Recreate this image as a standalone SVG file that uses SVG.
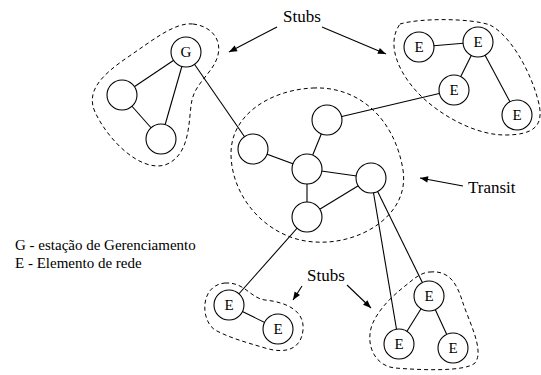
<svg xmlns="http://www.w3.org/2000/svg" width="541" height="375" viewBox="0 0 541 375">
  <style>
    .bg { fill: #ffffff; }
    .node circle { fill: #ffffff; stroke: #000000; stroke-width: 1.1; }
    .node text { font-size: 15px; text-anchor: middle; fill: #000000; }
    .link { stroke: #000000; stroke-width: 1.1; fill: none; }
    .domain { fill: none; stroke: #000000; stroke-width: 1; stroke-dasharray: 4 3; }
    .note { stroke: #000000; stroke-width: 1.1; fill: none; marker-end: url(#head); }
    .label { font-size: 17px; fill: #000000; }
    .legend { font-size: 15px; fill: #000000; }
  </style>
  <defs>
    <marker id="head" viewBox="0 0 10 10" refX="10" refY="5" markerWidth="10" markerHeight="8" markerUnits="userSpaceOnUse" orient="auto">
      <path d="M0,1 L10,5 L0,9 Z" fill="#000000"/>
    </marker>
  </defs>
  <rect class="bg" x="0" y="0" width="541" height="375"/>

  <!-- dashed domain boundaries -->
  <g id="domains">
    <path class="domain" d="M193,24 C210,26 222,38 218,55 C214,72 196,82 192,100 C188,118 192,155 165,165 C140,172 108,140 95,112 C86,92 100,76 128,57 C153,40 175,22 193,24 Z"/>
    <path class="domain" d="M400,24 C420,18 470,18 490,25 C510,35 530,70 538,100 C545,125 535,135 505,135 C475,135 440,115 420,95 C400,75 385,45 400,24 Z"/>
    <path class="domain" d="M313,88 C360,86 395,120 403,170 C410,215 360,245 315,242 C270,240 232,200 231,155 C230,115 270,90 313,88 Z"/>
    <path class="domain" d="M225,283 C245,282 250,298 265,300 C285,302 305,310 303,330 C301,350 285,354 265,348 C245,342 230,338 215,330 C200,320 200,285 225,283 Z"/>
    <path class="domain" d="M430,272 C450,270 457,285 462,300 C468,320 485,350 475,363 C465,372 420,370 395,368 C375,366 365,345 372,325 C380,305 400,290 410,282 C418,275 425,272 430,272 Z"/>
  </g>

  <!-- links between nodes -->
  <g id="connectors">
    <line class="link" x1="186" y1="52" x2="122" y2="95"/>
    <line class="link" x1="186" y1="52" x2="161" y2="139"/>
    <line class="link" x1="122" y1="95" x2="161" y2="139"/>
    <line class="link" x1="186" y1="52" x2="253" y2="149"/>
    <line class="link" x1="253" y1="149" x2="307" y2="169"/>
    <line class="link" x1="327" y1="120" x2="307" y2="169"/>
    <line class="link" x1="307" y1="169" x2="371" y2="178"/>
    <line class="link" x1="307" y1="169" x2="307" y2="217"/>
    <line class="link" x1="307" y1="217" x2="371" y2="178"/>
    <line class="link" x1="327" y1="120" x2="454" y2="90"/>
    <line class="link" x1="419" y1="47" x2="478" y2="42"/>
    <line class="link" x1="478" y1="42" x2="454" y2="90"/>
    <line class="link" x1="478" y1="42" x2="517" y2="115"/>
    <line class="link" x1="307" y1="217" x2="229" y2="305"/>
    <line class="link" x1="229" y1="305" x2="278" y2="329"/>
    <line class="link" x1="371" y1="178" x2="429" y2="296"/>
    <line class="link" x1="371" y1="178" x2="399" y2="344"/>
    <line class="link" x1="429" y1="296" x2="399" y2="344"/>
    <line class="link" x1="429" y1="296" x2="453" y2="348"/>
  </g>

  <g font-family="'Liberation Serif', 'Times New Roman', 'DejaVu Serif', serif">
    <!-- management stub -->
    <g id="g-station" class="node"><circle cx="186" cy="52" r="15"/><text x="186" y="57">G</text></g>
    <g id="stub1-a" class="node"><circle cx="122" cy="95" r="15"/></g>
    <g id="stub1-b" class="node"><circle cx="161" cy="139" r="15"/></g>

    <!-- transit domain -->
    <g id="transit-left" class="node"><circle cx="253" cy="149" r="15"/></g>
    <g id="transit-top" class="node"><circle cx="327" cy="120" r="15"/></g>
    <g id="transit-center" class="node"><circle cx="307" cy="169" r="15"/></g>
    <g id="transit-right" class="node"><circle cx="371" cy="178" r="15"/></g>
    <g id="transit-bottom" class="node"><circle cx="307" cy="217" r="15"/></g>

    <!-- upper right stub -->
    <g id="stub2-a" class="node"><circle cx="419" cy="47" r="15"/><text x="419" y="52">E</text></g>
    <g id="stub2-b" class="node"><circle cx="478" cy="42" r="15"/><text x="478" y="47">E</text></g>
    <g id="stub2-c" class="node"><circle cx="454" cy="90" r="15"/><text x="454" y="95">E</text></g>
    <g id="stub2-d" class="node"><circle cx="517" cy="115" r="15"/><text x="517" y="120">E</text></g>

    <!-- lower left stub -->
    <g id="stub3-a" class="node"><circle cx="229" cy="305" r="15"/><text x="229" y="310">E</text></g>
    <g id="stub3-b" class="node"><circle cx="278" cy="329" r="15"/><text x="278" y="334">E</text></g>

    <!-- lower right stub -->
    <g id="stub4-a" class="node"><circle cx="429" cy="296" r="15"/><text x="429" y="301">E</text></g>
    <g id="stub4-b" class="node"><circle cx="399" cy="344" r="15"/><text x="399" y="349">E</text></g>
    <g id="stub4-c" class="node"><circle cx="453" cy="348" r="15"/><text x="453" y="353">E</text></g>

    <!-- annotations -->
    <g id="annotations">
      <text class="label" x="302" y="22" text-anchor="middle">Stubs</text>
      <line class="note" x1="277" y1="27" x2="229" y2="52"/>
      <line class="note" x1="322" y1="27" x2="386" y2="54"/>
      <text class="label" x="468" y="193">Transit</text>
      <line class="note" x1="463" y1="186" x2="420" y2="178"/>
      <text class="label" x="326" y="281" text-anchor="middle">Stubs</text>
      <line class="note" x1="302" y1="286" x2="293" y2="300"/>
      <line class="note" x1="347" y1="285" x2="371" y2="308"/>
    </g>

    <!-- legend -->
    <g id="legend">
      <text class="legend" x="15" y="250">G - estação de Gerenciamento</text>
      <text class="legend" x="15" y="268">E - Elemento de rede</text>
    </g>
  </g>
</svg>
